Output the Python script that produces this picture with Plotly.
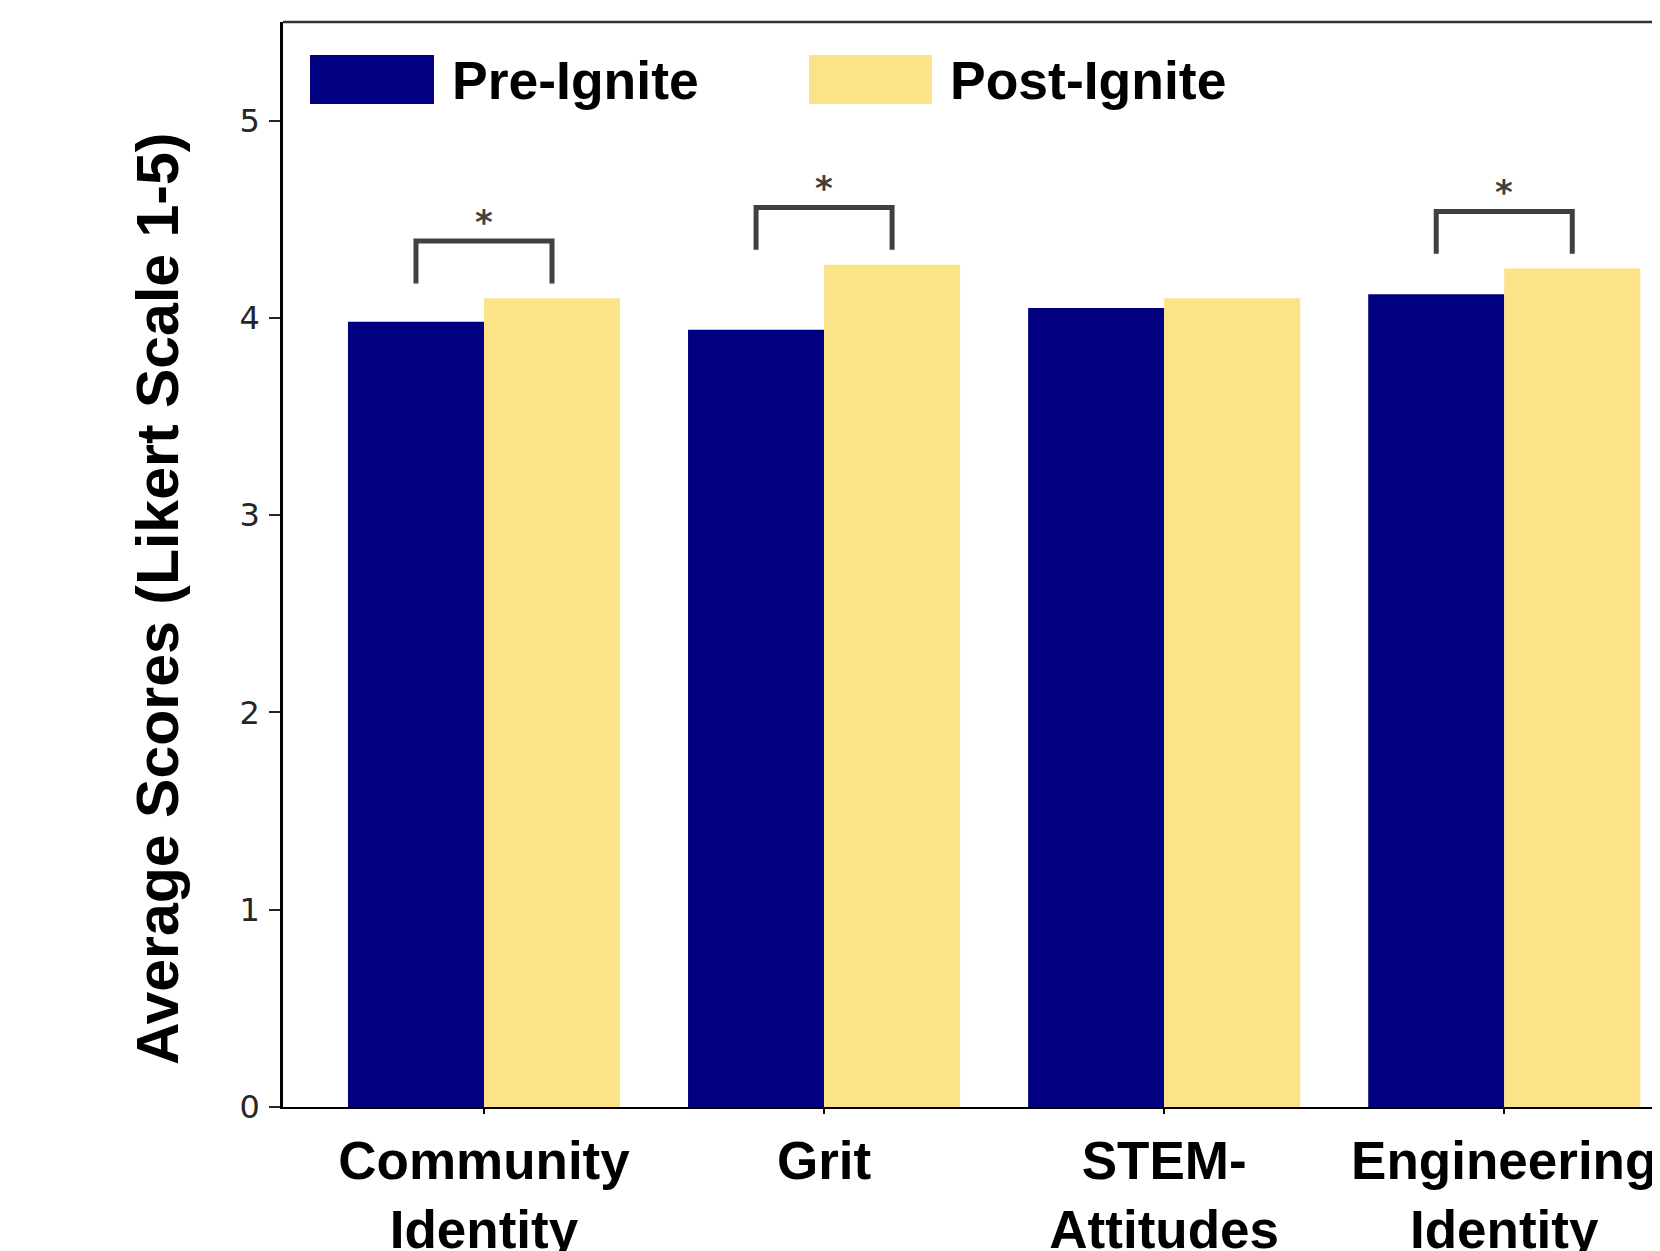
import plotly.graph_objects as go

categories = ["Community<br>Identity", "Grit", "STEM-<br>Attitudes", "Engineering<br>Identity"]
pre_scores = [3.98, 3.94, 4.05, 4.12]
post_scores = [4.10, 4.27, 4.10, 4.25]
significant = [True, True, False, True]
series_names = ["Pre-Ignite", "Post-Ignite"]
y_ticks = [0, 1, 2, 3, 4, 5]

PRE_COLOR = "#000080"
POST_COLOR = "#FCE388"
BRACKET_COLOR = "#404040"

OFF = 8  # page body margin
W, H = 1660 - OFF, 1251 - OFF
L, T = 283 - OFF, 22 - OFF
PH = 1085
B = H - T - PH
R = 0
PW = W - L - R


def px_x(px):  # screen px -> paper
    return (px - OFF - L) / PW


def px_y(py):
    return (T + PH - (py - OFF)) / PH


x_pos = list(range(len(categories)))

fig = go.Figure()
fig.add_trace(go.Bar(x=x_pos, y=pre_scores, name=series_names[0],
                     marker=dict(color=PRE_COLOR, line=dict(width=0)),
                     showlegend=False))
fig.add_trace(go.Bar(x=x_pos, y=post_scores, name=series_names[1],
                     marker=dict(color=POST_COLOR, line=dict(width=0)),
                     showlegend=False))

# significance brackets
for i, (a, b, s) in enumerate(zip(pre_scores, post_scores, significant)):
    if not s:
        continue
    m = max(a, b)
    base = m + 0.075
    top = m + 0.29
    fig.add_trace(go.Scatter(x=[i - 0.2, i - 0.2, i + 0.2, i + 0.2],
                             y=[base, top, top, base], mode="lines",
                             line=dict(color=BRACKET_COLOR, width=5),
                             hoverinfo="skip", showlegend=False))
    fig.add_annotation(x=i, y=top + 0.097, text="*", showarrow=False,
                       xanchor="center", yanchor="middle",
                       font=dict(family="DejaVu Sans", size=34, color=BRACKET_COLOR, weight="bold"))

# manual legend
legend_font = dict(family="Liberation Sans, Arial", size=53.5, color="black", weight="bold")
for (sx0, sx1, tx, col, name) in [(310, 434, 450, PRE_COLOR, series_names[0]),
                                   (809, 932, 948, POST_COLOR, series_names[1])]:
    fig.add_shape(type="rect", xref="paper", yref="paper",
                  x0=px_x(sx0), x1=px_x(sx1), y0=px_y(104), y1=px_y(55),
                  fillcolor=col, line=dict(width=0))
    fig.add_annotation(xref="paper", yref="paper", x=px_x(tx), y=px_y(81),
                       text=name, showarrow=False, xanchor="left", yanchor="middle",
                       font=legend_font)

# top spine
fig.add_shape(type="line", xref="paper", yref="paper", x0=0, x1=1, y0=1, y1=1,
              line=dict(color="#333333", width=2.5))

# y-axis title
fig.add_annotation(xref="paper", yref="paper", x=px_x(158), y=px_y(599),
                   text="Average Scores (Likert Scale 1-5)", textangle=-90,
                   showarrow=False, xanchor="center", yanchor="middle",
                   font=dict(family="Liberation Sans, Arial", size=59, color="black", weight="bold"))

fig.update_layout(
    width=W, height=H,
    margin=dict(l=L, r=R, t=T, b=B, autoexpand=False),
    paper_bgcolor="white", plot_bgcolor="white",
    barmode="group", bargap=0.2, bargroupgap=0,
    showlegend=False,
)
fig.update_xaxes(
    range=[-0.591, 3.458], tickvals=x_pos, ticktext=categories,
    automargin=False,
    showgrid=False, zeroline=False,
    showline=True, linecolor="black", linewidth=2,
    ticks="outside", ticklen=5, tickcolor="black", tickwidth=1.5,
    ticklabelstandoff=1,
    tickfont=dict(family="Liberation Sans, Arial", size=53, color="black", weight="bold"),
)
fig.update_yaxes(
    range=[0, 5.5], tickvals=y_ticks,
    automargin=False,
    showgrid=False, zeroline=False,
    showline=True, linecolor="black", linewidth=2.5,
    ticks="outside", ticklen=11, tickcolor="#262626", tickwidth=2,
    ticklabelstandoff=3,
    tickfont=dict(family="DejaVu Sans", size=32, color="#262626"),
)

fig.write_html("out.html")
